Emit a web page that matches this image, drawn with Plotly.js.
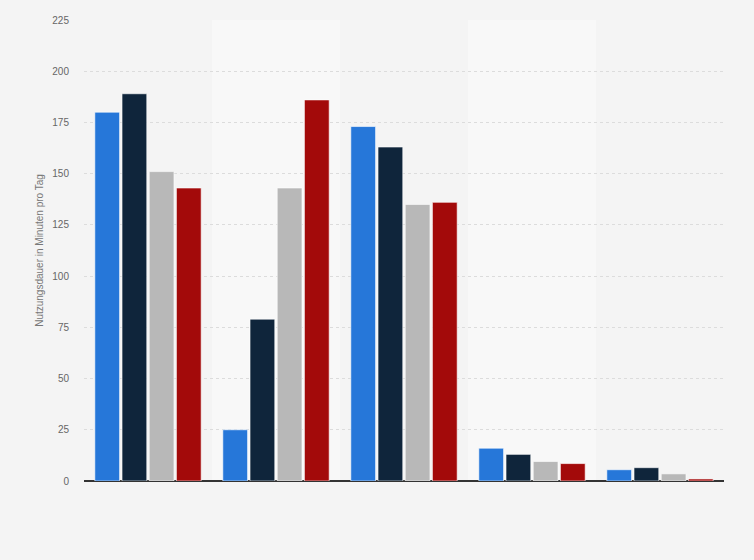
<!DOCTYPE html>
<html>
<head>
<meta charset="utf-8">
<script src="https://cdn.plot.ly/plotly-3.0.1.min.js"></script>
<style>
  html, body { margin: 0; padding: 0; background: #f4f4f4; }
  #chart { width: 754px; height: 560px; }
</style>
</head>
<body>
<div id="chart"></div>
<script>
// Gruppen (keine Beschriftung im Original sichtbar)
const kategorien = ["Gruppe 1", "Gruppe 2", "Gruppe 3", "Gruppe 4", "Gruppe 5"];

// Werte je Serie, Nutzungsdauer in Minuten pro Tag
const serieBlau = [180, 25, 173, 16, 5.5];
const serieNavy = [189, 79, 163, 13, 6.5];
const serieGrau = [151, 143, 135, 9.5, 3.5];
const serieRot = [143, 186, 136, 8.5, 1];

const tickWerte = [0, 25, 50, 75, 100, 125, 150, 175, 200, 225];

const farben = ["#2677d9", "#0f253b", "#b8b8b8", "#a30a0a"];
const serien = [serieBlau, serieNavy, serieGrau, serieRot];

const traces = serien.map((werte, i) => ({
  type: "bar",
  x: kategorien,
  y: werte,
  name: "Serie " + (i + 1),
  marker: {
    color: farben[i],
    line: { color: "rgba(255,255,255,0.6)", width: 1 }
  },
  hoverinfo: "y"
}));

// hellere Hintergrundstreifen bei Gruppe 2 und 4
const streifen = [1, 3].map(i => ({
  type: "rect",
  xref: "x",
  yref: "paper",
  x0: i - 0.5,
  x1: i + 0.5,
  y0: 0,
  y1: 1,
  fillcolor: "#f8f8f8",
  line: { width: 0 },
  layer: "below"
}));

const layout = {
  width: 754,
  height: 560,
  margin: { l: 84, r: 30, t: 20, b: 79 },
  paper_bgcolor: "#f4f4f4",
  plot_bgcolor: "#f4f4f4",
  barmode: "group",
  bargap: 0.15,
  bargroupgap: 0.09,
  showlegend: false,
  font: { family: "Liberation Sans, Arial, sans-serif", size: 10, color: "#666" },
  shapes: streifen,
  xaxis: {
    showticklabels: false,
    ticks: "",
    showgrid: false,
    zeroline: false,
    showline: false,
    fixedrange: true
  },
  yaxis: {
    range: [0, 225],
    tickvals: tickWerte,
    ticktext: tickWerte.map(String),
    showgrid: true,
    gridcolor: "#dcdcdc",
    griddash: "dot",
    gridwidth: 1,
    zeroline: true,
    zerolinecolor: "#333",
    zerolinewidth: 1.5,
    showline: false,
    ticks: "",
    ticklabelstandoff: 14,
    tickfont: { size: 10, color: "#666" },
    title: {
      text: "Nutzungsdauer in Minuten pro Tag",
      font: { size: 10, color: "#777" },
      standoff: 6
    }
  }
};

Plotly.newPlot("chart", traces, layout, { displayModeBar: false, staticPlot: true });
</script>
</body>
</html>
